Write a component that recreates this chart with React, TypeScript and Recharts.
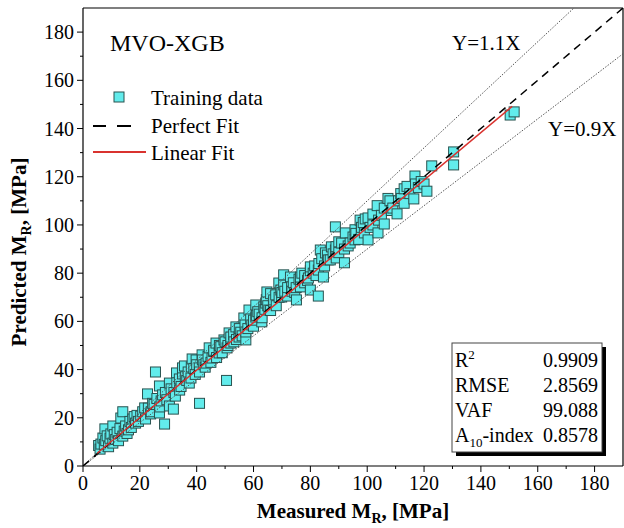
import React from 'react';
import { ComposedChart, Scatter, XAxis, YAxis } from 'recharts';

const FONT = '"Liberation Serif", "Times New Roman", serif';

const measured = [
  5.5, 6, 6.3, 7, 7.5, 7.7, 8, 8.5, 9, 9.5, 9.8, 10.5, 10.5, 11, 11.5, 12, 12.5, 13, 13.3, 14,
  14, 14.5, 15, 15.5, 16, 16.5, 17, 17.5, 18, 18.5, 19, 19.5, 20.3, 21, 21.7, 22, 22.7, 23, 23.8, 24,
  24.5, 25, 25.5, 26, 26.9, 26.9, 27, 27.5, 28, 28.7, 29, 29.5, 30.4, 30.4, 31, 31.8, 32, 32.5, 32.9, 33,
  33.9, 34, 34.5, 35, 35, 35.7, 36, 36.5, 37, 37.4, 38, 38.1, 38.4, 39, 39.5, 39.8, 40, 40.9, 41, 41,
  41.9, 42, 42.5, 43, 43.3, 44, 44.4, 45, 45.4, 46, 46, 46.8, 47, 47.9, 48, 48.5, 49, 49.6, 50, 50.5,
  50.7, 51, 51.4, 52, 52, 53, 53.1, 53.8, 54, 54.9, 55, 55.5, 56, 56.6, 57, 57.3, 57.3, 58, 58.4, 59,
  59.4, 60, 60, 60.8, 60.8, 61, 61.5, 62, 62.9, 63, 63.6, 64, 64.3, 64.5, 64.7, 65, 65.4, 66, 66, 67,
  67.1, 67.8, 68, 68.9, 69, 69.6, 69.9, 70, 70.6, 70.6, 71, 72, 72, 73, 73.4, 73.5, 74, 74.5, 75, 75.1,
  76, 76.5, 76.5, 77, 78, 78, 79, 79.3, 80, 80, 80, 81, 81.5, 82, 82.8, 82.8, 83, 83.5, 84, 84.6,
  85, 85.3, 86, 86.3, 87, 87.4, 88, 88.8, 88.8, 89, 89.1, 90, 90, 91, 92, 92, 92.3, 93.3, 94, 95,
  95.7, 95.7, 96, 97, 97.5, 97.9, 98, 98.6, 99, 99.3, 100.3, 100.3, 101, 102, 102, 103.5, 103.8, 104, 105, 106,
  106, 107.3, 108, 108.5, 109, 110.5, 111, 111.8, 112, 113, 113, 114, 115, 116.4, 116.8, 117, 118, 119, 120, 121,
  122.7, 130.4, 130.4, 150.3, 151.7,
];

const predicted = [
  8.5, 7, 9.1, 11.6, 9, 15.4, 10.5, 12.5, 8, 11.5, 13.3, 9.5, 16.6, 13, 11, 14, 10.5, 15.5, 19.9, 12.4,
  22.5, 14.5, 16.6, 13.5, 15, 18.5, 16, 19.5, 20.5, 17.8, 21, 18.5, 20.7, 22.5, 24.1, 19.5, 29.9, 24, 21.6, 22.5,
  26, 25.5, 39, 28, 22, 33.2, 24.5, 27, 29.5, 17.4, 30.5, 27.5, 24.9, 34.4, 32, 23.6, 30.5, 29, 38.6, 34.5,
  36.1, 31.5, 33, 38.2, 40.7, 41.5, 37, 35.5, 39, 34.4, 36.5, 41.1, 44.4, 40.5, 38, 44, 42, 40.7, 26, 39,
  46.1, 44, 42, 41, 42.7, 45.5, 49, 43, 44.8, 47.5, 48, 51, 45, 46.9, 50, 49.5, 47, 52.3, 51.5, 35.5,
  49, 50, 55.2, 51, 53.5, 54.5, 51.5, 57.7, 52.5, 53.5, 57, 55.5, 54, 61.4, 58.5, 52.3, 55.6, 57, 64.7, 61,
  58.5, 58, 60.5, 61.8, 66.8, 62.5, 64, 63, 59.8, 61.5, 66, 65, 67.6, 69, 72.2, 66.5, 64.7, 64.5, 71.5, 68,
  68.9, 71, 66.5, 75.9, 70, 73, 70.1, 72, 75.1, 79.3, 72.5, 70.5, 74, 78.4, 74.3, 72.5, 76, 72, 74, 68.9,
  77.5, 74.3, 78.4, 80, 76, 79, 77, 78, 73, 81, 82.6, 80, 83, 79, 70.5, 81.3, 84, 89.6, 86, 78.4,
  83, 88.4, 87.5, 85.5, 85.5, 90.9, 88, 89.6, 99.2, 91, 86.3, 88.5, 93, 92.5, 84.3, 90, 96.7, 91.3, 92.5, 95,
  93.8, 98, 96.5, 94, 102, 98, 99, 101, 96.7, 102.5, 93.8, 102.9, 99, 100, 104.5, 108, 96.7, 102, 104, 100.4,
  107, 111, 110, 106, 107, 104.6, 110, 113, 111, 109, 115, 116, 113, 110.8, 120.3, 117, 115.5, 118, 117, 114,
  124.5, 130.3, 124.9, 145.6, 146.9,
];

const minorTicks = [0, 10, 20, 30, 40, 50, 60, 70, 80, 90, 100, 110, 120, 130, 140, 150, 160, 170, 180];
const majorTicks = [0, 20, 40, 60, 80, 100, 120, 140, 160, 180];

const perfectFit = [{ x: 0, y: 0 }, { x: 190, y: 190 }];
const upperBound = [{ x: 0, y: 0 }, { x: 172.73, y: 190 }];
const lowerBound = [{ x: 0, y: 0 }, { x: 190, y: 171 }];
const linearFit = [{ x: 5, y: 5.3 }, { x: 151, y: 149.2 }];

const statNames = ['R', 'RMSE', 'VAF', 'A'];
const statValues = ['0.9909', '2.8569', '99.088', '0.8578'];

const training = measured.map((x, i) => ({ x, y: predicted[i] }));

const CYAN = '#62ECEC';
const EDGE = '#28524f';
const RED = '#d9332f';

const XTick = (props: any) => {
  const { x, y, payload } = props;
  const v = payload.value;
  const major = v % 20 === 0;
  return (
    <g>
      <line x1={x} y1={y} x2={x} y2={y + (major ? 6 : 3)} stroke="#000" strokeWidth={1} />
      {major && (
        <text x={x} y={y + 24} textAnchor="middle" fontSize={20} fontFamily={FONT} fill="#000">
          {v}
        </text>
      )}
    </g>
  );
};

const YTick = (props: any) => {
  const { x, y, payload } = props;
  const v = payload.value;
  const major = v % 20 === 0;
  return (
    <g>
      <line x1={x - (major ? 6 : 3)} y1={y} x2={x} y2={y} stroke="#000" strokeWidth={1} />
      {major && (
        <text x={x - 9} y={y + 7} textAnchor="end" fontSize={20} fontFamily={FONT} fill="#000">
          {v}
        </text>
      )}
    </g>
  );
};

const Square = (props: any) => {
  const { cx, cy } = props;
  if (cx == null || cy == null) return <g />;
  return <rect x={cx - 5} y={cy - 5} width={10} height={10} fill={CYAN} stroke={EDGE} strokeWidth={1} />;
};

const NoShape = () => <g />;

const Overlay = () => (
  <svg width={624} height={528} style={{ position: 'absolute', left: 0, top: 0, pointerEvents: 'none' }}>
    <g fontFamily={FONT} fill="#000">
      <text x={110} y={51} fontSize={24}>MVO-XGB</text>
      <rect x={114} y={92} width={10} height={10} fill={CYAN} stroke={EDGE} strokeWidth={1} />
      <text x={151} y={105} fontSize={21}>Training data</text>
      <line x1={93} y1={126} x2={106} y2={126} stroke="#000" strokeWidth={2} />
      <line x1={117} y1={126} x2={131} y2={126} stroke="#000" strokeWidth={2} />
      <text x={151} y={133} fontSize={21}>Perfect Fit</text>
      <line x1={93} y1={152} x2={146} y2={152} stroke={RED} strokeWidth={2} />
      <text x={151} y={160} fontSize={21}>Linear Fit</text>
      <text x={452} y={50} fontSize={21}>Y=1.1X</text>
      <text x={548} y={136} fontSize={21}>Y=0.9X</text>

      <rect x={456} y={347} width={150} height={109} fill="#000" />
      <rect x={452} y={343} width={150} height={109} fill="#fff" stroke="#444" strokeWidth={1} />
      <text x={455} y={367} fontSize={20}>
        {statNames[0]}
        <tspan fontSize={13} dy={-8}>2</tspan>
      </text>
      <text x={455} y={392} fontSize={20}>{statNames[1]}</text>
      <text x={455} y={417} fontSize={20}>{statNames[2]}</text>
      <text x={455} y={442} fontSize={20}>
        {statNames[3]}
        <tspan fontSize={13} dy={5}>10</tspan>
        <tspan dy={-5}>-index</tspan>
      </text>
      {statValues.map((v, i) => (
        <text key={v} x={598} y={367 + i * 25} fontSize={20} textAnchor="end">{v}</text>
      ))}

      <text x={353} y={518} fontSize={21} fontWeight="bold" textAnchor="middle">
        Measured M<tspan fontSize={14} dy={5}>R</tspan>
        <tspan dy={-5}>, [MPa]</tspan>
      </text>
      <text x={0} y={0} fontSize={21} fontWeight="bold" textAnchor="middle" transform="translate(26,252) rotate(-90)">
        Predicted M<tspan fontSize={14} dy={5}>R</tspan>
        <tspan dy={-5}>, [MPa]</tspan>
      </text>
    </g>
  </svg>
);

export default function App() {
  return (
    <div style={{ position: 'absolute', left: 0, top: 0, width: 624, height: 528, background: '#fff' }}>
      <ComposedChart width={624} height={528} margin={{ top: 8, right: 1, left: 23, bottom: 32 }}>
        <XAxis
          dataKey="x"
          type="number"
          domain={[0, 190]}
          allowDataOverflow
          ticks={minorTicks}
          interval={0}
          tickSize={0}
          tickMargin={0}
          tickLine={false}
          tick={<XTick />}
          height={30}
          axisLine={{ stroke: '#000', strokeWidth: 1.2 }}
        />
        <XAxis
          xAxisId="top"
          orientation="top"
          type="number"
          domain={[0, 190]}
          allowDataOverflow
          ticks={majorTicks}
          interval={0}
          mirror
          tick={false}
          tickSize={5}
          tickLine={{ stroke: '#000' }}
          axisLine={{ stroke: '#000', strokeWidth: 1.2 }}
        />
        <YAxis
          dataKey="y"
          type="number"
          domain={[0, 190]}
          allowDataOverflow
          ticks={minorTicks}
          interval={0}
          tickSize={0}
          tickMargin={0}
          tickLine={false}
          tick={<YTick />}
          width={60}
          axisLine={{ stroke: '#000', strokeWidth: 1.2 }}
        />
        <YAxis
          yAxisId="right"
          orientation="right"
          type="number"
          domain={[0, 190]}
          allowDataOverflow
          ticks={majorTicks}
          interval={0}
          mirror
          tick={false}
          tickSize={5}
          tickLine={{ stroke: '#000' }}
          axisLine={{ stroke: '#000', strokeWidth: 1.2 }}
        />
        <Scatter name="Training data" data={training} shape={<Square />} isAnimationActive={false} />
        <Scatter name="Y=1.1X" data={upperBound} shape={<NoShape />} line={{ stroke: '#555', strokeWidth: 1, strokeDasharray: '1.5 1.5' }} fill="none" isAnimationActive={false} />
        <Scatter name="Y=0.9X" data={lowerBound} shape={<NoShape />} line={{ stroke: '#555', strokeWidth: 1, strokeDasharray: '1.5 1.5' }} fill="none" isAnimationActive={false} />
        <Scatter name="Perfect Fit" data={perfectFit} shape={<NoShape />} line={{ stroke: '#000', strokeWidth: 1.5, strokeDasharray: '8 6' }} fill="none" isAnimationActive={false} />
        <Scatter name="Linear Fit" data={linearFit} shape={<NoShape />} line={{ stroke: RED, strokeWidth: 1.5 }} fill="none" isAnimationActive={false} />
      </ComposedChart>
      <Overlay />
    </div>
  );
}
